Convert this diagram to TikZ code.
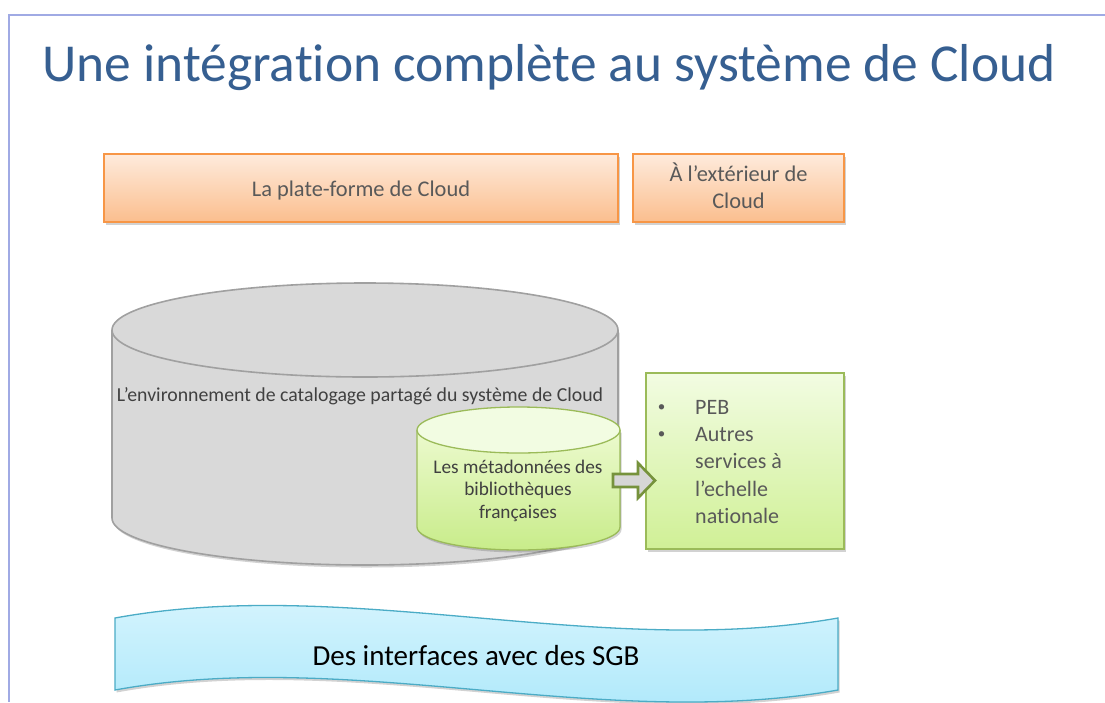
\documentclass[tikz,border=0pt]{standalone}
\usepackage{fontspec}
\setmainfont{Carlito}[Ligatures={NoCommon}]
\usetikzlibrary{shadows}
\definecolor{titleblue}{RGB}{54,95,145}
\definecolor{framec}{RGB}{160,170,228}
\definecolor{orborder}{RGB}{247,150,70}
\definecolor{ortop}{RGB}{254,235,220}
\definecolor{orbot}{RGB}{251,190,142}
\definecolor{txtgray}{RGB}{89,89,89}
\definecolor{txtdark}{RGB}{64,64,64}
\definecolor{cylfill}{RGB}{217,217,217}
\definecolor{cylborder}{RGB}{160,160,160}
\definecolor{grborder}{RGB}{155,187,89}
\definecolor{grtop}{RGB}{242,252,226}
\definecolor{grbot}{RGB}{208,240,150}
\definecolor{grcyltop}{RGB}{236,250,206}
\definecolor{grcylbot}{RGB}{200,236,138}
\definecolor{arrborder}{RGB}{118,146,60}
\definecolor{arrfill}{RGB}{214,214,214}
\definecolor{bltop}{RGB}{220,246,254}
\definecolor{blbot}{RGB}{168,231,250}
\definecolor{blborder}{RGB}{75,172,198}
\begin{document}
\begin{tikzpicture}[x=1pt,y=-1pt,
  shd/.style={drop shadow={shadow xshift=1.5pt,shadow yshift=-2.5pt,opacity=0.25,fill=black!70}},
  orbox/.style={draw=orborder,line width=1.3pt,top color=ortop,bottom color=orbot,shd,inner sep=0},
  grbox/.style={draw=grborder,line width=1.3pt,top color=grtop,bottom color=grbot,shd,inner sep=0},
  ortxt/.style={anchor=base,inner sep=0,text=txtgray,font=\fontsize{22.4}{27}\selectfont},
  lst/.style={anchor=base west,inner sep=0,text=txtgray,font=\fontsize{22}{27}\selectfont},
  bul/.style={anchor=base,inner sep=0,text=txtgray,font=\fontsize{15}{27}\selectfont},
  cyltxt/.style={anchor=base,inner sep=0,text=txtdark,font=\fontsize{19.8}{24}\selectfont},
  grtxt/.style={anchor=base,inner sep=0,text=txtdark,font=\fontsize{19.3}{23}\selectfont},
]
\useasboundingbox (0,0) rectangle (1105,702);
\fill[white] (0,0) rectangle (1105,702);
% frame
\draw[framec,line width=2pt] (8.5,702) -- (8.5,15) -- (1105,15);
% title
\node[anchor=base,inner sep=0,text=titleblue,font=\fontsize{53.4}{60}\selectfont] (title) at (549,81) {Une intégration complète au système de Cloud};
% orange boxes
\node[orbox,minimum width=514,minimum height=68] (plat) at (361,188) {};
\node[ortxt] (plattxt) at (361,196) {La plate-forme de Cloud};
\node[orbox,minimum width=211,minimum height=68] (ext) at (738.5,188) {};
\node[ortxt] (exttxt1) at (738.5,181.5) {À l’extérieur de};
\node[ortxt] (exttxt2) at (738.5,208.5) {Cloud};
% big cylinder
\fill[cylfill,shd] (112,330) -- (112,518) arc[start angle=180,end angle=0,x radius=253,y radius=47] -- (618,330) -- cycle;
\draw[cylborder,line width=1.6pt] (112,330) -- (112,518) arc[start angle=180,end angle=0,x radius=253,y radius=47] -- (618,330);
\filldraw[fill=cylfill,draw=cylborder,line width=1.6pt] (365,330) ellipse[x radius=253,y radius=47];
\node[cyltxt] (env) at (360,401) {L’environnement de catalogage partagé du système de Cloud};
% small green cylinder
\fill[top color=grcyltop,bottom color=grcylbot,shd] (417,430) -- (417,527) arc[start angle=180,end angle=0,x radius=101.5,y radius=23] -- (620,430) -- cycle;
\draw[grborder,line width=1.3pt] (417,430) -- (417,527) arc[start angle=180,end angle=0,x radius=101.5,y radius=23] -- (620,430);
\filldraw[fill=grtop,draw=grborder,line width=1.3pt] (518.5,430) ellipse[x radius=101.5,y radius=23];
\node[grtxt] (meta1) at (518,473) {Les métadonnées des};
\node[grtxt] (meta2) at (518,495.5) {bibliothèques};
\node[grtxt] (meta3) at (518,518) {françaises};
% services box
\node[grbox,minimum width=198,minimum height=176] (serv) at (745,461) {};
\node[bul] (b1) at (661.5,411) {•};
\node[bul] (b2) at (661.5,438.5) {•};
\node[lst] (peb) at (695,414) {PEB};
\node[lst] (autres) at (695,441.5) {Autres};
\node[lst] (servtxt) at (695,468.5) {services à};
\node[lst] (ech) at (695,496) {l’echelle};
\node[lst] (nat) at (695,523) {nationale};
% block arrow from cylinder to services box
\filldraw[fill=arrfill,draw=arrborder,line width=2.6pt,line join=miter]
  (613,474) -- (638,474) -- (638,463) -- (655,480.5) -- (638,498) -- (638,487) -- (613,487) -- cycle;
% banner
\path[draw=blborder,line width=1.3pt,top color=bltop,bottom color=blbot,shd]
  (115,618) .. controls (350,575) and (600,660) .. (838,618) -- (838,690)
  .. controls (600,732) and (350,647) .. (115,690) -- cycle;
\node[anchor=base,inner sep=0,text=black,font=\fontsize{29}{34}\selectfont] (sgb) at (476,665) {Des interfaces avec des SGB};
\end{tikzpicture}
\end{document}
